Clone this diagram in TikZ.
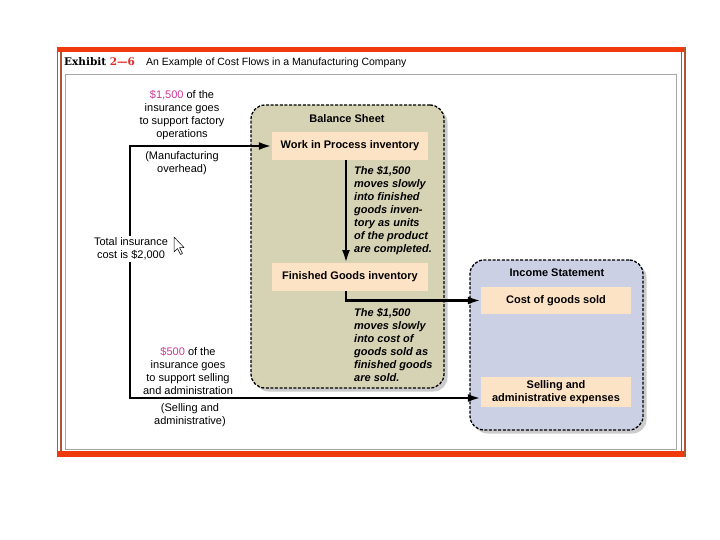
\documentclass[tikz,border=0pt]{standalone}
\usepackage{fontspec}
\setmainfont{Liberation Sans}
\newfontfamily\exfont{DejaVu Serif}
\usetikzlibrary{arrows.meta,shadows}
\definecolor{frameorange}{RGB}{238,58,12}
\definecolor{framebrown}{RGB}{175,85,55}
\definecolor{khaki}{RGB}{214,211,181}
\definecolor{peach}{RGB}{253,227,197}
\definecolor{bluepanel}{RGB}{203,208,229}
\definecolor{magentatext}{RGB}{205,55,150}
\definecolor{exred}{RGB}{228,40,40}
\tikzset{
  panel/.style={draw=black, line width=1.3pt, dash pattern=on 3pt off 1.6pt,
    rounded corners=14pt, drop shadow={shadow xshift=3.5pt, shadow yshift=-3.5pt, opacity=0.4}},
  acct/.style={fill=peach, minimum width=156pt, minimum height=28pt, inner sep=0pt,
    font=\fontsize{11}{12}\selectfont\bfseries, align=center},
  lbl/.style={font=\fontsize{11}{13}\selectfont, align=center, inner sep=0pt},
  note/.style={font=\fontsize{11}{13}\selectfont\bfseries\itshape, align=left, inner sep=0pt, anchor=west},
  flow/.style={line width=2.5pt, -{Latex[length=13pt,width=8pt]}},
  plain/.style={line width=2.5pt}
}
\begin{document}
\begin{tikzpicture}[x=1pt,y=-1pt]
\useasboundingbox (0,0) rectangle (720,540);
% frame
\draw[gray!70, line width=0.7pt] (65,74) rectangle (676,449);
\fill[frameorange] (57,47) rectangle (685,52);
\fill[frameorange] (57,451) rectangle (686,457);
\draw[framebrown, line width=1.3pt] (57.5,47) -- (57.5,457);
\draw[framebrown, line width=1.3pt] (61,52) -- (61,451);
\draw[framebrown, line width=1.3pt] (681.5,52) -- (681.5,451);
\draw[framebrown, line width=1.3pt] (685,47) -- (685,457);
% header
\node[anchor=base west, inner sep=0pt] (exh) at (64,66) {\exfont\bfseries\fontsize{10.5}{13}\selectfont Exhibit \textcolor{exred}{2—6}};
\node[anchor=base west, inner sep=0pt, font=\fontsize{10.5}{12}\selectfont] (ttl) at (146,66) {An Example of Cost Flows in a Manufacturing Company};
% panels
\node[panel, fill=khaki, minimum width=193pt, minimum height=283pt] (bal) at (347.5,246.5) {};
\node[panel, fill=bluepanel, minimum width=173pt, minimum height=170pt] (inc) at (556.5,345) {};
\node[font=\fontsize{11}{12}\selectfont\bfseries, inner sep=0pt] (balt) at (347,119) {Balance Sheet};
\node[font=\fontsize{11}{12}\selectfont\bfseries, inner sep=0pt] (inct) at (557,273) {Income Statement};
% accounts
\node[acct] (wip) at (350,146) {Work in Process inventory};
\node[acct] (fg) at (350,277) {Finished Goods inventory};
\node[acct, minimum width=150pt, minimum height=27pt] (cogs) at (556,300.5) {Cost of goods sold};
\node[acct, minimum width=150pt, minimum height=30pt, font=\fontsize{11}{13}\selectfont\bfseries] (sell) at (556,392) {Selling and\\administrative expenses};
% notes
\node[note] (n1) at (354,211) {The \$1,500\\moves slowly\\into finished\\goods inven-\\tory as units\\of the product\\are completed.};
\node[note] (n2) at (354,344.5) {The \$1,500\\moves slowly\\into cost of\\goods sold as\\finished goods\\are sold.};
% left labels
\node[lbl] (l1) at (182,115.5) {\textcolor{magentatext}{\$1,500} of the\\insurance goes\\to support factory\\operations};
\node[lbl] (l2) at (182,163.5) {(Manufacturing\\overhead)};
\node[lbl] (l3) at (188,370.5) {\textcolor{magentatext}{\$500} of the\\insurance goes\\to support selling\\and administration};
\node[lbl] (l4) at (190,415) {(Selling and\\administrative)};
% connectors
\coordinate (top) at (130,146);
\coordinate (bot) at (130,398);
\coordinate (fgout) at (346,291);
\coordinate (fgturn) at (346,300.5);
\coordinate (wipout) at (346,160);
\coordinate (fgin) at (346,263);
\draw[plain, line cap=rect] (top) -- (bot);
\draw[flow] (top) -- (wip.west);
\draw[flow] (bot) -- (bot -| sell.west);
\draw[flow] (wipout) -- (fgin);
\draw[flow] (fgout) -- (fgturn) -- (cogs.west);
\node[lbl, fill=white, inner sep=2pt] (tot) at (131,249) {Total insurance\\cost is \$2,000};
% cursor
\draw[fill=white, line width=0.5pt, line join=round] (174,237) -- (174,252) -- (177.5,248.5) -- (180.5,254.5) -- (182.5,253.5) -- (179.5,247.5) -- (184,247.5) -- cycle;
\end{tikzpicture}
\end{document}
